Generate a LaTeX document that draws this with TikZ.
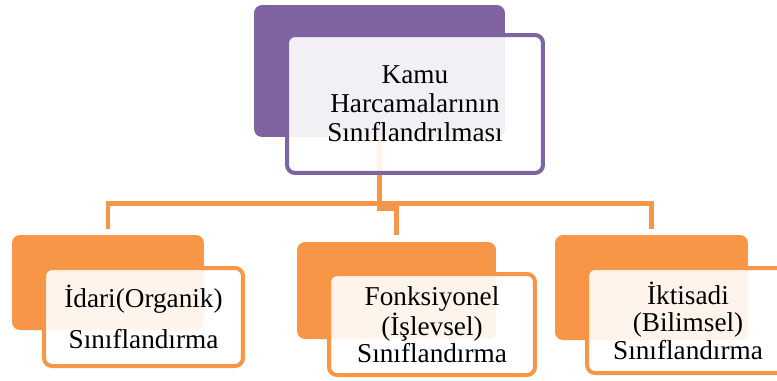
\documentclass[tikz,border=0pt]{standalone}
\usepackage{fontspec}
\setmainfont{Liberation Serif}
\definecolor{kamumor}{HTML}{8064A2}
\definecolor{kamuturuncu}{HTML}{F79646}

\begin{document}
\begin{tikzpicture}[x=0.02cm, y=-0.02cm,
  backbox/.style={fill=#1, rounded corners=0.16cm, inner sep=0pt},
  frontbox/.style={draw=#1, line width=0.08cm, fill=white, fill opacity=0.9, text opacity=1,
    rounded corners=0.16cm, align=center, inner sep=0pt, font=\fontsize{15.5}{15.6}\selectfont},
  branch/.style={draw=kamuturuncu, line width=0.09cm}]
\useasboundingbox (0,0) rectangle (777,380);
\clip (0,0) rectangle (777,380);

\node[backbox=kamumor, minimum width=5.02cm, minimum height=2.64cm] (kamuback) at (379.5,71) {};
\node[backbox=kamuturuncu, minimum width=3.84cm, minimum height=1.90cm] (idariback) at (108,282.5) {};
\node[backbox=kamuturuncu, minimum width=3.98cm, minimum height=1.94cm] (fonksback) at (396.5,290.5) {};
\node[backbox=kamuturuncu, minimum width=3.86cm, minimum height=2.10cm] (iktisadiback) at (651.5,287.5) {};

\path (kamuback.south) ++(0,66) coordinate (fork);
\draw[branch, shorten <=0.12cm, shorten >=0.12cm] (idariback.north) |- (fork) -| (iktisadiback.north);
\draw[branch, shorten >=0.14cm] (kamuback.south) -- (fork) -- ++(0,5) -| (fonksback.north);

\node[frontbox=kamumor, minimum width=5.12cm, minimum height=2.76cm,
  font=\fontsize{15.5}{16.4}\selectfont] (kamu) at (415,104) {Kamu\\Harcamalarının\\Sınıflandrılması};
\node[frontbox=kamuturuncu, minimum width=3.98cm, minimum height=1.96cm] (idari) at (143.5,317) {İdari(Organik)\\[8pt]Sınıflandırma};
\node[frontbox=kamuturuncu, minimum width=4.12cm, minimum height=2.02cm] (fonks) at (432,324.5) {Fonksiyonel\\(İşlevsel)\\Sınıflandırma};
\node[frontbox=kamuturuncu, minimum width=4.04cm, minimum height=2.10cm] (iktisadi) at (688,320.5) {İktisadi\\(Bilimsel)\\Sınıflandırma};
\end{tikzpicture}
\end{document}
